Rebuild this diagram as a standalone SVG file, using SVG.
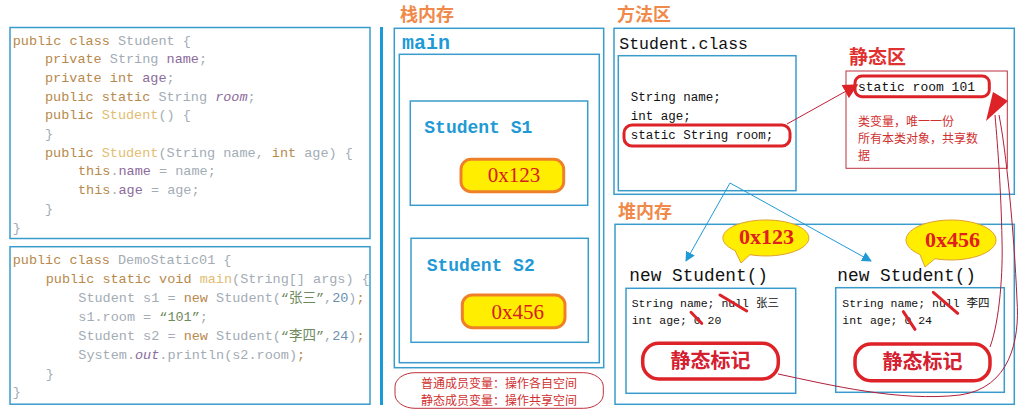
<svg xmlns="http://www.w3.org/2000/svg" width="1025" height="415" viewBox="0 0 1025 415">
<style>
.panel{fill:none;stroke:#3a9ccc;stroke-width:1.5}
.code{font-family:"Liberation Mono","Noto Sans CJK SC",monospace;font-size:13.5px;fill:#a3acb5}
.kw{fill:#b8894c}.pu{fill:#8b6b9b}.go{fill:#e2bd72}.gr{fill:#6e8a5e}.bl{fill:#6a8fb0}.it{font-style:italic}
.head{font-family:"Noto Sans CJK SC",sans-serif;font-weight:bold;font-size:18px;fill:#f08a4b}
.blue{font-family:"Liberation Mono",monospace;font-weight:bold;fill:#1f9ad6}
.pill{fill:#ffee00;stroke:#f08028;stroke-width:3}
.ptxt{font-family:"Liberation Serif",serif;font-size:21px;fill:#d42020;text-anchor:middle}
.mono{font-family:"Liberation Mono","Noto Sans CJK SC",monospace;fill:#111}
.red3{fill:none;stroke:#dd2228;stroke-width:3}
.mark{fill:#fff;stroke:#dd2228;stroke-width:3.5}
.mtxt{font-family:"Noto Sans CJK SC",sans-serif;font-weight:bold;font-size:20px;fill:#d42030;text-anchor:middle}
.bub{fill:#ffee00;stroke:#e0a030;stroke-width:1}
.btxt{font-family:"Liberation Serif",serif;font-weight:bold;font-size:22px;fill:#e02020;text-anchor:middle}
.strike{stroke:#dd2228;stroke-width:3;stroke-linecap:round}
.cn{font-family:"Noto Sans CJK SC",sans-serif;font-size:12px;fill:#d03030}
</style>
<defs>
<marker id="ab" viewBox="0 0 10 10" refX="9" refY="5" markerWidth="10" markerHeight="10" markerUnits="userSpaceOnUse" orient="auto"><path d="M0,0 L10,5 L0,10 Z" fill="#1f9ad6"/></marker>
<marker id="ar" viewBox="0 0 10 10" refX="9" refY="5" markerWidth="15" markerHeight="15" markerUnits="userSpaceOnUse" orient="auto"><path d="M0,0 L10,5 L0,10 Z" fill="#dd2228"/></marker>
</defs>
<rect width="1025" height="415" fill="#fff"/>

<g id="code-student">
<rect class="panel" x="10" y="27.5" width="360" height="211"/>
<text class="code" xml:space="preserve" x="12.7" y="44.5"><tspan class="kw">public class </tspan>Student {</text>
<text class="code" xml:space="preserve" x="45" y="63.2"><tspan class="kw">private </tspan>String <tspan class="pu">name</tspan>;</text>
<text class="code" xml:space="preserve" x="45" y="81.9"><tspan class="kw">private int </tspan><tspan class="pu">age</tspan>;</text>
<text class="code" xml:space="preserve" x="45" y="100.6"><tspan class="kw">public static </tspan>String <tspan class="pu it">room</tspan>;</text>
<text class="code" xml:space="preserve" x="45" y="119.3"><tspan class="kw">public </tspan><tspan class="go">Student</tspan>() {</text>
<text class="code" xml:space="preserve" x="45" y="138">}</text>
<text class="code" xml:space="preserve" x="45" y="156.7"><tspan class="kw">public </tspan><tspan class="go">Student</tspan>(String name, <tspan class="kw">int </tspan>age) {</text>
<text class="code" xml:space="preserve" x="78" y="175.4"><tspan class="kw">this</tspan>.<tspan class="pu">name</tspan> = name;</text>
<text class="code" xml:space="preserve" x="78" y="194.1"><tspan class="kw">this</tspan>.<tspan class="pu">age</tspan> = age;</text>
<text class="code" xml:space="preserve" x="45" y="212.8">}</text>
<text class="code" xml:space="preserve" x="12.7" y="231.5">}</text>
</g>

<g id="code-demo">
<rect class="panel" x="10" y="246.7" width="360" height="157.5"/>
<text class="code" xml:space="preserve" x="12.7" y="263.8"><tspan class="kw">public class </tspan>DemoStatic01 {</text>
<text class="code" xml:space="preserve" x="45.7" y="282.8"><tspan class="kw">public static void </tspan><tspan class="go">main</tspan>(String[] args) {</text>
<text class="code" xml:space="preserve" x="78.3" y="301.8">Student s1 = <tspan class="kw">new </tspan>Student(<tspan class="gr">“张三”</tspan>,<tspan class="bl">20</tspan>)<tspan class="kw">;</tspan></text>
<text class="code" xml:space="preserve" x="78.3" y="320.8">s1.room = <tspan class="gr">“101”</tspan>;</text>
<text class="code" xml:space="preserve" x="78.3" y="339.8">Student s2 = <tspan class="kw">new </tspan>Student(<tspan class="gr">“李四”</tspan>,<tspan class="bl">24</tspan>)<tspan class="kw">;</tspan></text>
<text class="code" xml:space="preserve" x="78.3" y="358.8">System.<tspan class="pu it">out</tspan>.println(s2.room)<tspan class="kw">;</tspan></text>
<text class="code" xml:space="preserve" x="45.7" y="377.8">}</text>
<text class="code" xml:space="preserve" x="12.7" y="396.2">}</text>
</g>

<g id="divider"><rect x="380" y="27" width="3" height="378" fill="#1a9ad6"/></g>

<g id="stack">
<text class="head" x="400" y="21">栈内存</text>
<rect class="panel" x="394.3" y="28.3" width="209.4" height="339.4"/>
<text class="blue" x="402" y="49" font-size="20px">main</text>
<rect class="panel" x="399.3" y="54.3" width="200" height="308.4"/>
</g>

<g id="s1">
<rect class="panel" x="410.3" y="101" width="177.4" height="104.3"/>
<text class="blue" x="424.3" y="133" font-size="18px">Student S1</text>
<rect class="pill" x="461" y="159.3" width="102.7" height="32.4" rx="10"/>
<text class="ptxt" x="514" y="182">0x123</text>
</g>

<g id="s2">
<rect class="panel" x="411" y="238.3" width="177.3" height="104"/>
<text class="blue" x="426.7" y="270.5" font-size="18px">Student S2</text>
<rect class="pill" x="462.3" y="295" width="102.7" height="32.7" rx="10"/>
<text class="ptxt" x="517.7" y="318.5">0x456</text>
</g>

<g id="note">
<rect x="395" y="372.7" width="208.3" height="35.6" rx="20" ry="14" fill="none" stroke="#c0303a" stroke-width="1"/>
<text class="cn" x="499" y="388" text-anchor="middle">普通成员变量：操作各自空间</text>
<text class="cn" x="499" y="405" text-anchor="middle">静态成员变量：操作共享空间</text>
</g>

<g id="method-area">
<text class="head" x="617" y="21">方法区</text>
<rect class="panel" x="614" y="28.3" width="400.3" height="166"/>
<text class="mono" x="619.3" y="49" font-size="16.5px">Student.class</text>
</g>

<g id="class-box">
<rect class="panel" x="618.3" y="55.7" width="177.7" height="135"/>
<text class="mono" x="630.7" y="101" font-size="12.5px">String name;</text>
<text class="mono" x="630.7" y="120" font-size="12.5px">int age;</text>
<rect class="red3" x="624" y="125" width="166" height="21" rx="8"/>
<text class="mono" x="630.7" y="138.7" font-size="12.5px">static String room;</text>
</g>

<g id="static-area">
<text x="849" y="64" font-family="Noto Sans CJK SC,sans-serif" font-weight="bold" font-size="19px" fill="#e03030">静态区</text>
<rect x="846" y="71" width="161.3" height="97.3" fill="none" stroke="#c03040" stroke-width="1"/>
<rect class="red3" x="855" y="76" width="134.3" height="20.7" rx="7"/>
<text class="mono" x="858" y="90.5" font-size="13px" fill="#b0303a">static room 101</text>
<text class="cn" x="858" y="125.5">类变量，唯一一份</text>
<text class="cn" x="858" y="142.5">所有本类对象，共享数</text>
<text class="cn" x="858" y="159.5">据</text>
</g>

<g id="heap">
<text class="head" x="618" y="218">堆内存</text>
<rect class="panel" x="615" y="224.3" width="399.3" height="180"/>
</g>

<g id="obj1">
<text class="mono" x="629.3" y="281" font-size="17.8px">new Student()</text>
<rect class="panel" x="626" y="288.3" width="169.7" height="105"/>
<text class="mono" xml:space="preserve" x="631.7" y="306.5" font-size="11.5px">String name; null 张三</text>
<text class="mono" xml:space="preserve" x="631.7" y="324.2" font-size="11.5px">int age; 0 20</text>
<line class="strike" x1="720" y1="295" x2="746.7" y2="311"/>
<line class="strike" x1="691" y1="312.3" x2="701.7" y2="323.3"/>
<rect class="mark" x="642.7" y="343.3" width="135.6" height="35.7" rx="16"/>
<text class="mtxt" x="710.5" y="368">静态标记</text>
</g>

<g id="obj2">
<text class="mono" x="837.3" y="281" font-size="17.8px">new Student()</text>
<rect class="panel" x="835.7" y="287.7" width="168.6" height="104.6"/>
<text class="mono" xml:space="preserve" x="842.3" y="306.5" font-size="11.5px">String name; null 李四</text>
<text class="mono" xml:space="preserve" x="842.3" y="324.2" font-size="11.5px">int age; 0 24</text>
<line class="strike" x1="933.3" y1="292.3" x2="957.7" y2="313.3"/>
<line class="strike" x1="903.3" y1="311.7" x2="915" y2="329.3"/>
<rect class="mark" x="855" y="344" width="135" height="36.7" rx="16"/>
<text class="mtxt" x="922.5" y="369">静态标记</text>
</g>

<g id="bubble1">
<path class="bub" d="M750,254.7 A43,18 0 1,0 735,250.5 L741,263 Z"/>
<text class="btxt" x="766.5" y="243.5">0x123</text>
</g>

<g id="bubble2">
<path class="bub" d="M935,258.7 A45,20 0 1,0 920,254.5 L925,267 Z"/>
<text class="btxt" x="952.5" y="246.5">0x456</text>
</g>

<g id="connectors">
<line x1="730" y1="183" x2="686" y2="261" stroke="#1f9ad6" stroke-width="1" marker-end="url(#ab)"/>
<line x1="730" y1="183" x2="871" y2="261" stroke="#1f9ad6" stroke-width="1" marker-end="url(#ab)"/>
<line x1="787" y1="124" x2="857" y2="85" stroke="#c0203a" stroke-width="1" marker-end="url(#ar)"/>
<path d="M990,347 C1000,320 1003,270 1002,240 C1001,190 998,150 995,115" fill="none" stroke="#b0203a" stroke-width="1"/>
<path d="M778,374 C830,385 900,402 960,395 C1010,388 1020,340 1017,300 C1014,230 1006,150 999,115" fill="none" stroke="#b0203a" stroke-width="1"/>
<polygon points="986,121 993,92 1008,101" fill="#dd2228"/>
</g>
</svg>
